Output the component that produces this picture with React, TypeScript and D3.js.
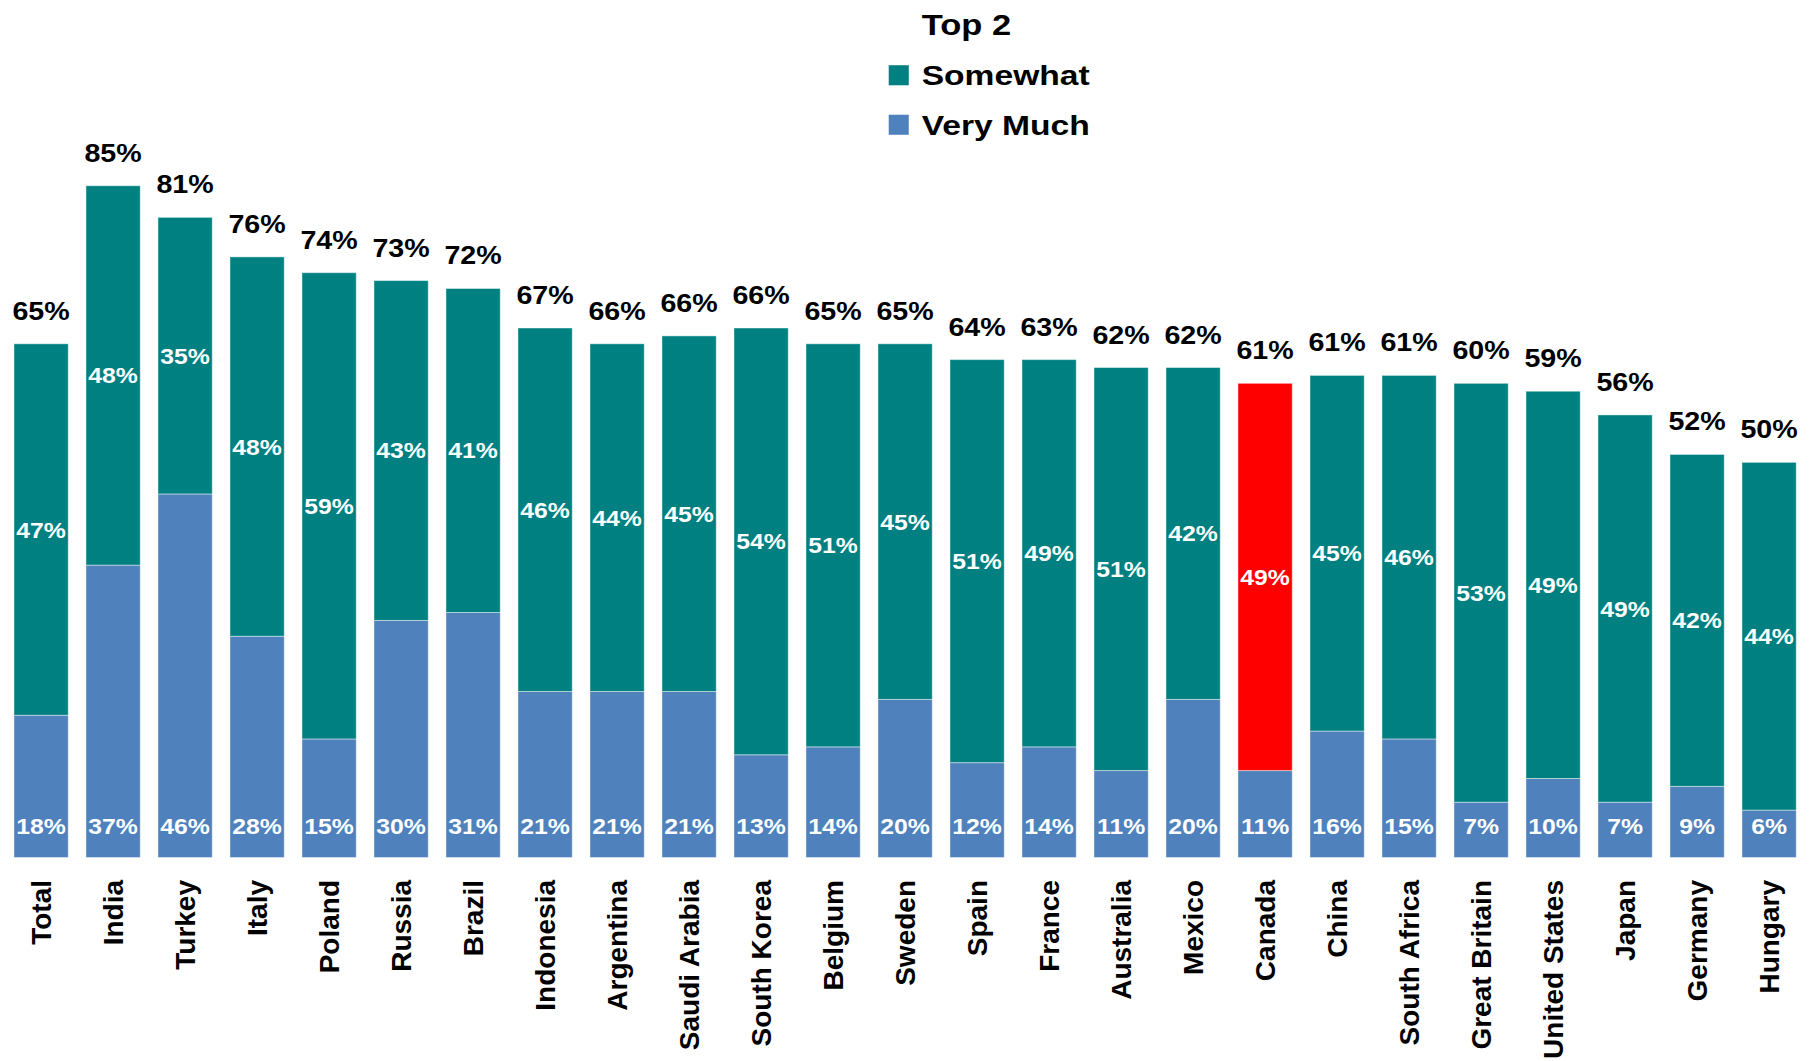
import React from "react";
import * as d3 from "d3";

const categories = [
  "Total", "India", "Turkey", "Italy", "Poland", "Russia", "Brazil", "Indonesia",
  "Argentina", "Saudi Arabia", "South Korea", "Belgium", "Sweden", "Spain", "France",
  "Australia", "Mexico", "Canada", "China", "South Africa", "Great Britain",
  "United States", "Japan", "Germany", "Hungary",
];
const veryMuch = [18, 37, 46, 28, 15, 30, 31, 21, 21, 21, 13, 14, 20, 12, 14, 11, 20, 11, 16, 15, 7, 10, 7, 9, 6];
const somewhat = [47, 48, 35, 48, 59, 43, 41, 46, 44, 45, 54, 51, 45, 51, 49, 51, 42, 49, 45, 46, 53, 49, 49, 42, 44];
const totalLabels = [65, 85, 81, 76, 74, 73, 72, 67, 66, 66, 66, 65, 65, 64, 63, 62, 62, 61, 61, 61, 60, 59, 56, 52, 50];
const highlighted = ["Canada"];

const legendTitle = "Top 2";
const legendItems = ["Somewhat", "Very Much"];

const COLORS = { somewhat: "#008080", veryMuch: "#4F81BD", highlight: "#FF0000" };
const FONT = "'Liberation Sans', Arial, Helvetica, sans-serif";

export default function App() {
  const W = 1816, H = 1061;
  const baseline = 857.5;
  const x = d3.scaleBand<string>().domain(categories).range([5.1, 1805.1]).paddingInner(0.246).paddingOuter(0.123);
  const y = d3.scaleLinear().domain([0, 100]).range([baseline, baseline - 790.3]);
  const bw = x.bandwidth();
  const stack = d3.stack<any>().keys(["veryMuch", "somewhat"]);
  const rows = categories.map((c, i) => ({ cat: c, veryMuch: veryMuch[i], somewhat: somewhat[i] }));
  const series = stack(rows);

  const legendColors = [COLORS.somewhat, COLORS.veryMuch];

  return (
    <svg width={W} height={H} style={{ position: "absolute", left: 0, top: 0, background: "#fff" }} fontFamily={FONT}>
      <rect x={0} y={0} width={W} height={H} fill="#fff" />
      {series.map((s) => (
        <g key={s.key}>
          {s.map((d, i) => {
            const cat = categories[i];
            let fill = s.key === "veryMuch" ? COLORS.veryMuch : COLORS.somewhat;
            if (s.key === "somewhat" && highlighted.includes(cat)) fill = COLORS.highlight;
            return (
              <rect key={cat} x={x(cat)} y={y(d[1])} width={bw} height={y(d[0]) - y(d[1])}
                fill={fill} stroke="#ffffff" strokeOpacity={0.45} strokeWidth={1} />
            );
          })}
        </g>
      ))}
      {/* segment labels */}
      {series.map((s) =>
        s.map((d, i) => {
          const cat = categories[i];
          const cx = (x(cat) as number) + bw / 2;
          const ty = s.key === "veryMuch" ? baseline - 23.5 : (y(d[0]) + y(d[1])) / 2 + 8;
          const v = s.key === "veryMuch" ? veryMuch[i] : somewhat[i];
          return (
            <text key={s.key + cat} transform={`translate(${cx},${ty}) scale(1.1,1)`} textAnchor="middle"
              fontSize={22.5} fontWeight="bold" fill="#fff">{v}%</text>
          );
        })
      )}
      {/* total labels */}
      {categories.map((cat, i) => {
        const cx = (x(cat) as number) + bw / 2;
        const top = y(veryMuch[i] + somewhat[i]);
        return (
          <text key={"t" + cat} transform={`translate(${cx},${top - 24}) scale(1.08,1)`} textAnchor="middle"
            fontSize={26.5} fontWeight="bold" fill="#000">{totalLabels[i]}%</text>
        );
      })}
      {/* category labels */}
      {categories.map((cat) => {
        const cx = (x(cat) as number) + bw / 2;
        return (
          <text key={"c" + cat} transform={`translate(${cx},880) rotate(-90)`} textAnchor="end" dy="0.36em"
            fontSize={28} fontWeight="bold" fill="#000">{cat}</text>
        );
      })}
      {/* legend */}
      <text transform="translate(921.7,35) scale(1.15,1)" fontSize={30} fontWeight="bold" fill="#000">{legendTitle}</text>
      {legendItems.map((name, i) => (
        <g key={name}>
          <rect x={888.5} y={65 + i * 49.5} width={20.5} height={20.5} fill={legendColors[i]} stroke="#ffffff" strokeOpacity={0.45} />
          <text transform={`translate(921.7,${85 + i * 50}) scale(1.2,1)`} fontSize={28} fontWeight="bold" fill="#000">{name}</text>
        </g>
      ))}
    </svg>
  );
}
